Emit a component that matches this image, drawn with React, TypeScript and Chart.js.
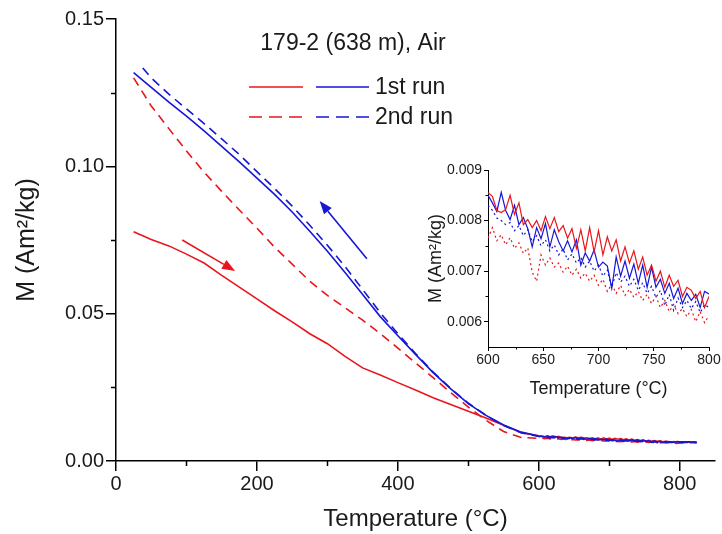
import React, { useEffect, useRef } from 'react';
import { Chart, registerables } from 'chart.js';

Chart.register(...registerables);

const FONT = "'Liberation Sans', Arial, Helvetica, sans-serif";
const RED = '#e8161c';
const BLUE = '#1616d6';
const INK = '#1a1a1a';

// ---------- main plot: 25 – 575 °C ----------
const mainTemps = [25, 50, 75, 100, 125, 150, 175, 200, 225, 250, 275, 300, 325, 350, 375, 400, 425, 450, 475, 500, 525, 550, 575];
const red1Main = [0.0778, 0.0752, 0.073, 0.0702, 0.0672, 0.063, 0.059, 0.055, 0.051, 0.0472, 0.0432, 0.0398, 0.0355, 0.0316, 0.0292, 0.0266, 0.0241, 0.0215, 0.0192, 0.0169, 0.0146, 0.0121, 0.0096];
const red2Main = [0.13, 0.1205, 0.1128, 0.1052, 0.098, 0.0915, 0.0852, 0.079, 0.0726, 0.0668, 0.061, 0.0562, 0.052, 0.0478, 0.0432, 0.0383, 0.0333, 0.0283, 0.0232, 0.0183, 0.0138, 0.01, 0.008];
const blue1Main = [0.1318, 0.1268, 0.1218, 0.117, 0.112, 0.1068, 0.1015, 0.096, 0.0905, 0.0845, 0.078, 0.0712, 0.064, 0.0565, 0.049, 0.0425, 0.0362, 0.03, 0.0245, 0.0195, 0.0155, 0.0122, 0.0098];
const blue2Temps = [38, 50, 75, 100, 125, 150, 175, 200, 225, 250, 275, 300, 325, 350, 375, 400, 425, 450, 475, 500, 525, 550, 575];
const blue2Main = [0.1334, 0.13, 0.1245, 0.1195, 0.1145, 0.1093, 0.104, 0.0982, 0.0925, 0.0865, 0.08, 0.0732, 0.066, 0.0582, 0.0503, 0.0432, 0.0365, 0.0302, 0.0246, 0.0196, 0.0155, 0.012, 0.0096];

// ---------- high-temperature detail: 600 – 800 °C (inset, also used in main) ----------
const insetTemps = [600, 604, 608, 612, 616, 620, 624, 628, 632, 636, 640, 644, 648, 652, 656, 660, 664, 668, 672, 676, 680, 684, 688, 692, 696, 700, 704, 708, 712, 716, 720, 724, 728, 732, 736, 740, 744, 748, 752, 756, 760, 764, 768, 772, 776, 780, 784, 788, 792, 796, 800];
const red1Inset = [0.00855, 0.00848, 0.0082, 0.00816, 0.00822, 0.0085, 0.00812, 0.00835, 0.00792, 0.00802, 0.00786, 0.008, 0.0078, 0.00808, 0.00784, 0.00806, 0.00778, 0.0079, 0.00765, 0.00784, 0.00745, 0.00782, 0.0074, 0.00786, 0.00738, 0.0078, 0.00732, 0.00768, 0.0074, 0.00762, 0.0072, 0.00748, 0.00716, 0.0074, 0.00704, 0.00728, 0.00692, 0.00712, 0.0068, 0.007, 0.00668, 0.00692, 0.0067, 0.00682, 0.0065, 0.00668, 0.00662, 0.00646, 0.0066, 0.00628, 0.0065];
const blue1Inset = [0.0085, 0.00835, 0.00818, 0.00856, 0.0082, 0.00802, 0.0083, 0.00792, 0.00806, 0.00784, 0.00748, 0.00786, 0.00764, 0.00794, 0.00748, 0.00782, 0.00758, 0.0074, 0.0076, 0.00738, 0.00762, 0.00712, 0.00736, 0.0072, 0.00742, 0.00708, 0.00718, 0.0071, 0.00666, 0.00728, 0.0069, 0.0072, 0.00686, 0.00714, 0.00676, 0.00712, 0.00668, 0.00708, 0.00668, 0.00684, 0.00656, 0.00676, 0.00646, 0.00666, 0.00636, 0.00656, 0.00642, 0.00654, 0.00628, 0.0066, 0.00655];
const red2Inset = [0.00765, 0.00786, 0.0076, 0.00772, 0.00752, 0.00766, 0.00745, 0.00756, 0.00735, 0.00746, 0.00698, 0.0068, 0.00732, 0.00712, 0.00726, 0.00708, 0.00716, 0.00698, 0.0071, 0.00692, 0.00704, 0.00686, 0.00696, 0.0068, 0.00692, 0.00672, 0.00684, 0.0066, 0.00674, 0.00656, 0.00672, 0.00652, 0.00664, 0.00648, 0.0066, 0.00642, 0.00654, 0.00636, 0.0065, 0.00628, 0.00642, 0.0062, 0.00634, 0.00616, 0.00626, 0.0061, 0.00624, 0.006, 0.0062, 0.00598, 0.00612];
const blue2Inset = [0.0083, 0.0082, 0.00805, 0.008, 0.00792, 0.00796, 0.0078, 0.0079, 0.0077, 0.00782, 0.00758, 0.0077, 0.0075, 0.00762, 0.0074, 0.00752, 0.00732, 0.00744, 0.00722, 0.00734, 0.00716, 0.00727, 0.00708, 0.0072, 0.007, 0.00712, 0.0069, 0.00702, 0.00668, 0.00697, 0.00678, 0.0069, 0.0067, 0.00684, 0.00662, 0.00677, 0.00656, 0.0067, 0.00648, 0.00662, 0.00632, 0.00654, 0.00622, 0.00647, 0.00628, 0.00642, 0.00626, 0.0064, 0.00618, 0.00634, 0.00628];

// ---------- end of the runs, beyond 800 °C ----------
const tailTemps = [812, 824];
const red1Tail = [0.0064, 0.0063];
const red2Tail = [0.0062, 0.0062];
const blue1Tail = [0.0065, 0.0064];
const blue2Tail = [0.0063, 0.0063];

// ---------- axes ----------
const mainXTicks = [0, 200, 400, 600, 800];
const mainXMinor = [100, 300, 500, 700];
const mainYTicks = [0, 0.05, 0.1, 0.15];
const mainYMinor = [0.025, 0.075, 0.125];
const insetXMinor = [625, 675, 725, 775];
const insetYMinor = [0.0065, 0.0075, 0.0085];

// ---------- annotations ----------
const titleText = '179-2 (638 m), Air';
const legendLabels = ['1st run', '2nd run'];
const redArrow = { from: [94, 0.075], to: [169, 0.0645] };
const blueArrow = { from: [356, 0.0686], to: [289, 0.0882] };

const pts = (xs: number[], ys: number[]) => xs.map((x, i) => ({ x, y: ys[i] }));

const decorPlugin = {
  id: 'decor',
  afterDraw(chart: any, _args: any, opts: any) {
    const ctx: CanvasRenderingContext2D = chart.ctx;
    const xs = chart.scales.x;
    const ys = chart.scales.y;
    const area = chart.chartArea;
    ctx.save();
    ctx.strokeStyle = '#000';
    ctx.lineWidth = opts.tickWidth || 1.5;
    ctx.beginPath();
    for (const v of opts.minorX || []) {
      const px = Math.round(xs.getPixelForValue(v)) + 0.5;
      ctx.moveTo(px, area.bottom);
      ctx.lineTo(px, area.bottom + opts.minorLen);
    }
    for (const v of opts.minorY || []) {
      const py = Math.round(ys.getPixelForValue(v)) + 0.5;
      ctx.moveTo(area.left, py);
      ctx.lineTo(area.left - opts.minorLen, py);
    }
    ctx.stroke();

    for (const a of opts.arrows || []) {
      const x1 = xs.getPixelForValue(a.from[0]);
      const y1 = ys.getPixelForValue(a.from[1]);
      const x2 = xs.getPixelForValue(a.to[0]);
      const y2 = ys.getPixelForValue(a.to[1]);
      const ang = Math.atan2(y2 - y1, x2 - x1);
      const hl = 13;
      const hw = 5;
      const bx = x2 - hl * Math.cos(ang);
      const by = y2 - hl * Math.sin(ang);
      ctx.strokeStyle = a.color;
      ctx.fillStyle = a.color;
      ctx.lineWidth = 1.6;
      ctx.beginPath();
      ctx.moveTo(x1, y1);
      ctx.lineTo(bx, by);
      ctx.stroke();
      ctx.beginPath();
      ctx.moveTo(x2, y2);
      ctx.lineTo(bx + hw * Math.sin(ang), by - hw * Math.cos(ang));
      ctx.lineTo(bx - hw * Math.sin(ang), by + hw * Math.cos(ang));
      ctx.closePath();
      ctx.fill();
    }

    if (opts.legend) {
      const lx = area.left + 133;
      const title = opts.legend.title;
      ctx.fillStyle = INK;
      ctx.font = `23px ${FONT}`;
      ctx.textBaseline = 'middle';
      ctx.textAlign = 'center';
      ctx.fillText(title, area.left + 237, area.top + 25);
      const rows = [
        { y: area.top + 68, dash: [] as number[], label: opts.legend.labels[0] },
        { y: area.top + 98, dash: [13, 7], label: opts.legend.labels[1] },
      ];
      ctx.lineWidth = 1.6;
      for (const r of rows) {
        ctx.setLineDash(r.dash);
        ctx.strokeStyle = RED;
        ctx.beginPath();
        ctx.moveTo(lx, r.y);
        ctx.lineTo(lx + 54, r.y);
        ctx.stroke();
        ctx.strokeStyle = BLUE;
        ctx.beginPath();
        ctx.moveTo(lx + 67, r.y);
        ctx.lineTo(lx + 120, r.y);
        ctx.stroke();
        ctx.setLineDash([]);
        ctx.textAlign = 'left';
        ctx.fillText(r.label, lx + 126, r.y + 1);
      }
    }
    ctx.restore();
  },
};

function axisCommon(tickLen: number, size: number, pad: number) {
  return {
    grid: { display: true, drawOnChartArea: false, drawTicks: true, tickLength: tickLen, color: '#000', lineWidth: 1.5 },
    border: { display: true, color: '#000', width: 1.5 },
    ticks: { color: INK, font: { family: FONT, size }, padding: pad, includeBounds: false, maxRotation: 0, autoSkip: false },
  };
}

export default function App() {
  const mainRef = useRef<HTMLCanvasElement>(null);
  const insetRef = useRef<HTMLCanvasElement>(null);

  useEffect(() => {
    const lineDs = (label: string, data: any[], color: string, dash: number[], width: number) => ({
      label,
      data,
      borderColor: color,
      backgroundColor: color,
      borderWidth: width,
      borderDash: dash,
      pointRadius: 0,
      tension: 0,
      fill: false,
    });

    const mainXC = axisCommon(10, 20, 1);
    const mainYC = axisCommon(10, 20, 2);
    const main = new Chart(mainRef.current!, {
      type: 'line',
      data: {
        datasets: [
          lineDs('1st run (cooling)', [...pts(mainTemps, blue1Main), ...pts(insetTemps, blue1Inset), ...pts(tailTemps, blue1Tail)], BLUE, [], 1.6),
          lineDs('2nd run (cooling)', [...pts(blue2Temps, blue2Main), ...pts(insetTemps, blue2Inset), ...pts(tailTemps, blue2Tail)], BLUE, [9, 6], 1.6),
          lineDs('1st run (heating)', [...pts(mainTemps, red1Main), ...pts(insetTemps, red1Inset), ...pts(tailTemps, red1Tail)], RED, [], 1.6),
          lineDs('2nd run (heating)', [...pts(mainTemps, red2Main), ...pts(insetTemps, red2Inset), ...pts(tailTemps, red2Tail)], RED, [9, 6], 1.6),
        ],
      },
      options: {
        animation: false,
        responsive: false,
        layout: { padding: { top: 19, right: 7, left: 0, bottom: 0 } },
        plugins: {
          legend: { display: false },
          tooltip: { enabled: false },
          decor: {
            minorX: mainXMinor,
            minorY: mainYMinor,
            minorLen: 5,
            tickWidth: 1.5,
            arrows: [
              { ...redArrow, color: RED },
              { ...blueArrow, color: BLUE },
            ],
            legend: { title: titleText, labels: legendLabels },
          },
        } as any,
        scales: {
          x: {
            type: 'linear',
            min: 0,
            max: 850,
            ...mainXC,
            ticks: { ...mainXC.ticks, stepSize: 200, callback: (v: any) => (mainXTicks.includes(v) ? String(v) : '') },
            title: { display: true, text: 'Temperature (°C)', color: INK, font: { family: FONT, size: 24 }, padding: { top: 1, bottom: 0 } },
            afterFit: (s: any) => { s.height = 73; },
          },
          y: {
            type: 'linear',
            min: 0,
            max: 0.15,
            ...mainYC,
            ticks: { ...mainYC.ticks, stepSize: 0.05, callback: (v: any) => (mainYTicks.some((t) => Math.abs(t - v) < 1e-9) ? Number(v).toFixed(2) : '') },
            title: { display: true, text: 'M (Am²/kg)', color: INK, font: { family: FONT, size: 25 }, padding: { top: 12, bottom: 0 } },
            afterFit: (s: any) => { s.width = 116; },
          },
        },
      },
      plugins: [decorPlugin as any],
    });

    const inXC = axisCommon(4, 14, 1);
    const inYC = axisCommon(4, 14, 2);
    const inset = new Chart(insetRef.current!, {
      type: 'line',
      data: {
        datasets: [
          lineDs('1st run (heating)', pts(insetTemps, red1Inset), RED, [], 1.2),
          lineDs('1st run (cooling)', pts(insetTemps, blue1Inset), BLUE, [], 1.2),
          lineDs('2nd run (cooling)', pts(insetTemps, blue2Inset), BLUE, [2, 3], 1.2),
          lineDs('2nd run (heating)', pts(insetTemps, red2Inset), RED, [2, 3], 1.2),
        ],
      },
      options: {
        animation: false,
        responsive: false,
        layout: { padding: { top: 30, right: 13, left: 0, bottom: 0 } },
        plugins: {
          legend: { display: false },
          tooltip: { enabled: false },
          decor: { minorX: insetXMinor, minorY: insetYMinor, minorLen: 2.5, tickWidth: 1 },
        } as any,
        scales: {
          x: {
            type: 'linear',
            min: 600,
            max: 800,
            ...inXC,
            grid: { ...inXC.grid, lineWidth: 1 },
            border: { ...inXC.border, width: 1 },
            ticks: { ...inXC.ticks, stepSize: 50 },
            title: { display: true, text: 'Temperature (°C)', color: INK, font: { family: FONT, size: 18 }, padding: { top: 14, bottom: 0 } },
            afterFit: (s: any) => { s.height = 53; },
          },
          y: {
            type: 'linear',
            min: 0.0055,
            max: 0.009,
            ...inYC,
            grid: { ...inYC.grid, lineWidth: 1 },
            border: { ...inYC.border, width: 1 },
            ticks: { ...inYC.ticks, stepSize: 0.001, callback: (v: any) => Number(v).toFixed(3) },
            title: { display: true, text: 'M (Am²/kg)', color: INK, font: { family: FONT, size: 18 }, padding: { top: 25, bottom: 0 } },
            afterFit: (s: any) => { s.width = 88; },
          },
        },
      },
      plugins: [decorPlugin as any],
    });

    return () => {
      main.destroy();
      inset.destroy();
    };
  }, []);

  return (
    <div style={{ position: 'fixed', left: 0, top: 0, width: 722, height: 534, background: '#fff' }}>
      <canvas ref={mainRef} width={722} height={534} style={{ position: 'absolute', left: 0, top: 0, display: 'block' }} />
      <canvas ref={insetRef} width={322} height={260} style={{ position: 'absolute', left: 400, top: 140, display: 'block' }} />
    </div>
  );
}
